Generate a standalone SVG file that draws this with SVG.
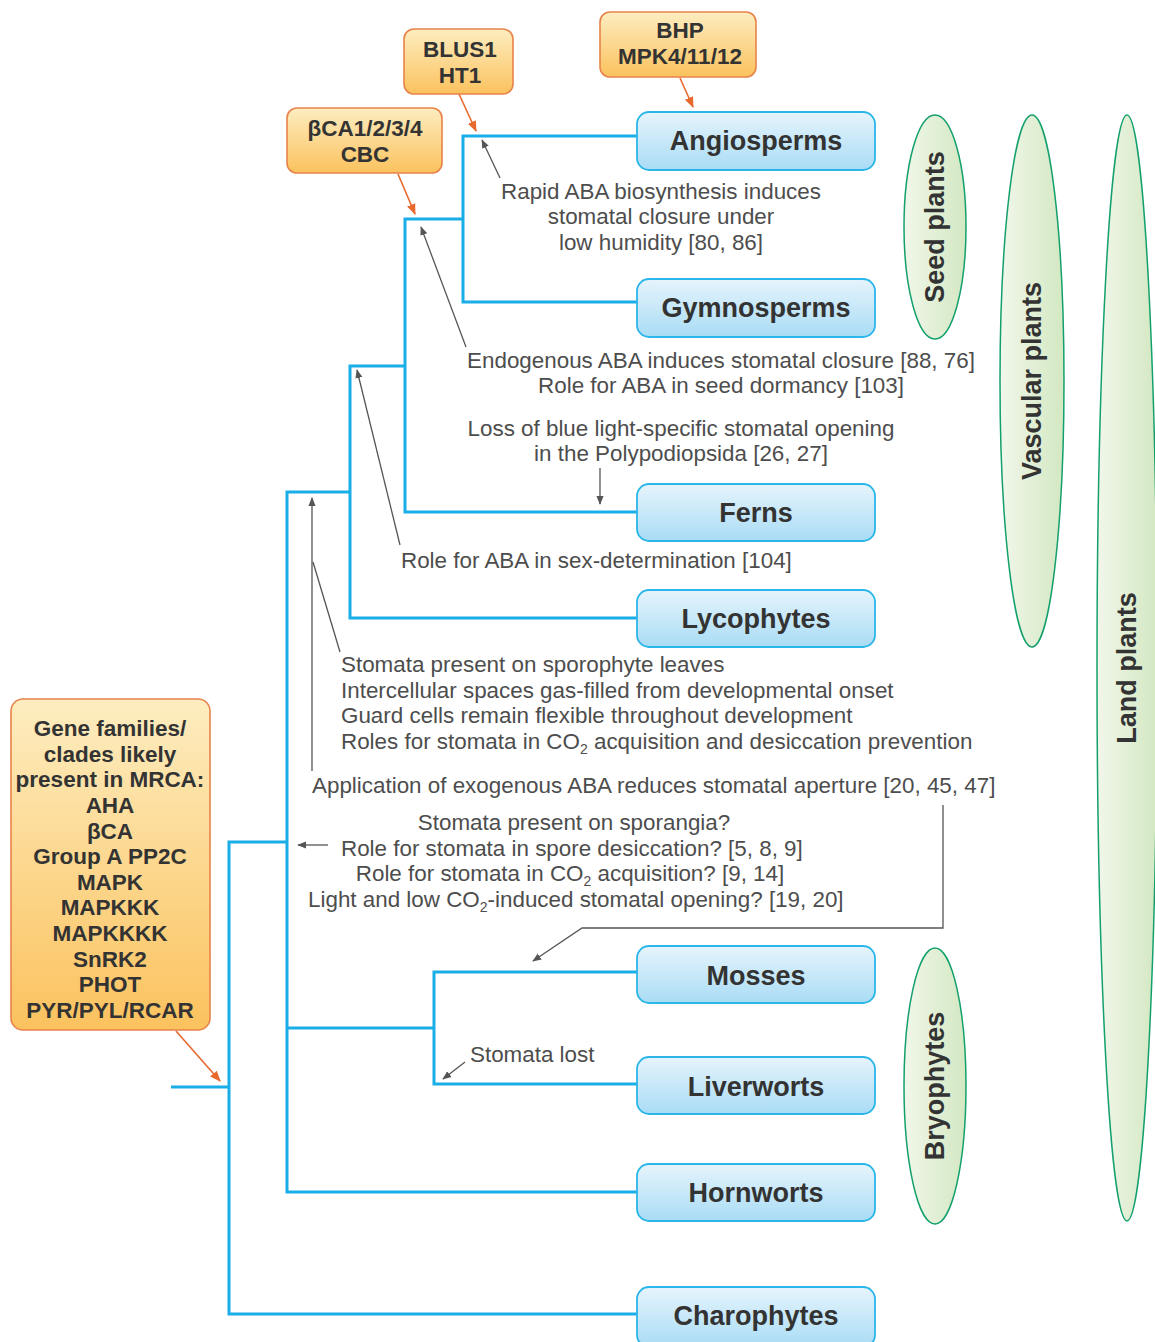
<svg xmlns="http://www.w3.org/2000/svg" width="1155" height="1342" viewBox="0 0 1155 1342">
<defs>
<linearGradient id="gBlue" x1="0" y1="0" x2="0" y2="1"><stop offset="0" stop-color="#e6f4fc"/><stop offset="1" stop-color="#a9dcf5"/></linearGradient>
<linearGradient id="gOrange" x1="0" y1="0" x2="0" y2="1"><stop offset="0" stop-color="#fdedc0"/><stop offset="1" stop-color="#fbc25e"/></linearGradient>
<linearGradient id="gGreen" x1="0" y1="0" x2="1" y2="0"><stop offset="0" stop-color="#f1f7ea"/><stop offset="1" stop-color="#d3e8c2"/></linearGradient>
<marker id="mGray" viewBox="0 0 10 10" refX="9" refY="5" markerWidth="9" markerHeight="9" markerUnits="userSpaceOnUse" orient="auto"><path d="M0,1 L10,5 L0,9 Z" fill="#555"/></marker>
<marker id="mOrange" viewBox="0 0 10 10" refX="9" refY="5" markerWidth="11" markerHeight="11" markerUnits="userSpaceOnUse" orient="auto"><path d="M0,1 L10,5 L0,9 Z" fill="#e8692e"/></marker>
</defs>
<style>
.tree{fill:none;stroke:#1aaee8;stroke-width:3}
.ptr{fill:none;stroke:#555;stroke-width:1.3}
.optr{fill:none;stroke:#e8692e;stroke-width:1.6}
.clade rect{fill:url(#gBlue);stroke:#2bb6ea;stroke-width:1.8}
.gene rect{fill:url(#gOrange);stroke:#e8834a;stroke-width:1.6}
.grp ellipse{fill:url(#gGreen);stroke:#14a06c;stroke-width:1.5}
.lbl{font-family:"Liberation Sans",Arial,sans-serif;font-weight:bold;font-size:27px;fill:#333;text-anchor:middle}
.glbl{font-family:"Liberation Sans",Arial,sans-serif;font-weight:bold;font-size:22.5px;fill:#333;text-anchor:middle}
.note{font-family:"Liberation Sans",Arial,sans-serif;font-size:22.4px;fill:#4d4d4d}
.c{text-anchor:middle}
</style>
<rect width="1155" height="1342" fill="#fff"/>

<g id="groups" class="grp">
<g id="seed-plants"><ellipse cx="935" cy="227" rx="31" ry="112"/><text class="lbl" transform="translate(944,227) rotate(-90)">Seed plants</text></g>
<g id="vascular-plants"><ellipse cx="1032" cy="381" rx="32" ry="266"/><text class="lbl" transform="translate(1041,381) rotate(-90)">Vascular plants</text></g>
<g id="land-plants"><ellipse cx="1127" cy="668" rx="30" ry="553"/><text class="lbl" transform="translate(1136,668) rotate(-90)">Land plants</text></g>
<g id="bryophytes"><ellipse cx="935" cy="1086" rx="31" ry="138"/><text class="lbl" transform="translate(944,1086) rotate(-90)">Bryophytes</text></g>
</g>

<g id="connectors">
<path class="tree" d="M637,136 H463 V302 H637 M463,219 H405 V512 H637 M405,366 H350 V618 H637 M350,492 H287 V1192 H637 M287,1028 H434 V972 H637 M434,1028 V1084 H637 M287,842 H229 V1314 H637 M171,1087 H229"/>
<line class="optr" x1="459" y1="94" x2="476" y2="131" marker-end="url(#mOrange)"/>
<line class="optr" x1="680" y1="78" x2="693" y2="107" marker-end="url(#mOrange)"/>
<line class="optr" x1="398" y1="174" x2="415" y2="214" marker-end="url(#mOrange)"/>
<line class="optr" x1="176" y1="1031" x2="220" y2="1081" marker-end="url(#mOrange)"/>
<line class="ptr" x1="500" y1="178" x2="482" y2="140" marker-end="url(#mGray)"/>
<line class="ptr" x1="466" y1="347" x2="421" y2="227" marker-end="url(#mGray)"/>
<line class="ptr" x1="400" y1="545" x2="357" y2="370" marker-end="url(#mGray)"/>
<line class="ptr" x1="312" y1="771" x2="312" y2="498" marker-end="url(#mGray)"/>
<line class="ptr" x1="340" y1="652" x2="313" y2="562"/>
<line class="ptr" x1="600" y1="468" x2="600" y2="504" marker-end="url(#mGray)"/>
<line class="ptr" x1="328" y1="845" x2="298" y2="845" marker-end="url(#mGray)"/>
<path class="ptr" d="M943,805 V928 H582 L533,961" marker-end="url(#mGray)"/>
<line class="ptr" x1="465" y1="1062" x2="443" y2="1079" marker-end="url(#mGray)"/>
</g>

<g id="clades" class="clade">
<g id="angiosperms"><rect x="637" y="112" width="238" height="58" rx="12"/><text class="lbl" x="756" y="150">Angiosperms</text></g>
<g id="gymnosperms"><rect x="637" y="279" width="238" height="58" rx="12"/><text class="lbl" x="756" y="317">Gymnosperms</text></g>
<g id="ferns"><rect x="637" y="484" width="238" height="57" rx="12"/><text class="lbl" x="756" y="522">Ferns</text></g>
<g id="lycophytes"><rect x="637" y="590" width="238" height="57" rx="12"/><text class="lbl" x="756" y="628">Lycophytes</text></g>
<g id="mosses"><rect x="637" y="946" width="238" height="57" rx="12"/><text class="lbl" x="756" y="985">Mosses</text></g>
<g id="liverworts"><rect x="637" y="1057" width="238" height="57" rx="12"/><text class="lbl" x="756" y="1096">Liverworts</text></g>
<g id="hornworts"><rect x="637" y="1164" width="238" height="57" rx="12"/><text class="lbl" x="756" y="1202">Hornworts</text></g>
<g id="charophytes"><rect x="637" y="1287" width="238" height="60" rx="12"/><text class="lbl" x="756" y="1325">Charophytes</text></g>
</g>

<g id="genes" class="gene">
<g id="blus1-ht1"><rect x="404" y="29" width="109" height="65" rx="10"/><text class="glbl" x="460" y="57">BLUS1</text><text class="glbl" x="460" y="83">HT1</text></g>
<g id="bhp-mpk"><rect x="600" y="12" width="156" height="65" rx="10"/><text class="glbl" x="680" y="38">BHP</text><text class="glbl" x="680" y="64">MPK4/11/12</text></g>
<g id="bca-cbc"><rect x="287" y="108" width="155" height="65" rx="10"/><text class="glbl" x="365" y="136">βCA1/2/3/4</text><text class="glbl" x="365" y="162">CBC</text></g>
<g id="mrca-genes"><rect x="11" y="699" width="199" height="331" rx="12"/>
<text class="glbl" x="110" y="736">Gene families/</text>
<text class="glbl" x="110" y="762">clades likely</text>
<text class="glbl" x="110" y="787">present in MRCA:</text>
<text class="glbl" x="110" y="813">AHA</text>
<text class="glbl" x="110" y="839">βCA</text>
<text class="glbl" x="110" y="864">Group A PP2C</text>
<text class="glbl" x="110" y="890">MAPK</text>
<text class="glbl" x="110" y="915">MAPKKK</text>
<text class="glbl" x="110" y="941">MAPKKKK</text>
<text class="glbl" x="110" y="967">SnRK2</text>
<text class="glbl" x="110" y="992">PHOT</text>
<text class="glbl" x="110" y="1018">PYR/PYL/RCAR</text>
</g>
</g>

<g id="notes" class="note">
<text class="c" x="661" y="199">Rapid ABA biosynthesis induces</text>
<text class="c" x="661" y="224">stomatal closure under</text>
<text class="c" x="661" y="250">low humidity [80, 86]</text>
<text class="c" x="721" y="368">Endogenous ABA induces stomatal closure [88, 76]</text>
<text class="c" x="721" y="393">Role for ABA in seed dormancy [103]</text>
<text class="c" x="681" y="436">Loss of blue light-specific stomatal opening</text>
<text class="c" x="681" y="461">in the Polypodiopsida [26, 27]</text>
<text x="401" y="568">Role for ABA in sex-determination [104]</text>
<text x="341" y="672">Stomata present on sporophyte leaves</text>
<text x="341" y="698">Intercellular spaces gas-filled from developmental onset</text>
<text x="341" y="723">Guard cells remain flexible throughout development</text>
<text x="341" y="749">Roles for stomata in CO<tspan font-size="14" dy="5">2</tspan><tspan dy="-5"> acquisition and desiccation prevention</tspan></text>
<text x="312" y="793">Application of exogenous ABA reduces stomatal aperture [20, 45, 47]</text>
<text class="c" x="574" y="830">Stomata present on sporangia?</text>
<text x="341" y="856">Role for stomata in spore desiccation? [5, 8, 9]</text>
<text class="c" x="570" y="881">Role for stomata in CO<tspan font-size="14" dy="5">2</tspan><tspan dy="-5"> acquisition? [9, 14]</tspan></text>
<text x="308" y="907">Light and low CO<tspan font-size="14" dy="5">2</tspan><tspan dy="-5">-induced stomatal opening? [19, 20]</tspan></text>
<text x="470" y="1062">Stomata lost</text>
</g>
</svg>
